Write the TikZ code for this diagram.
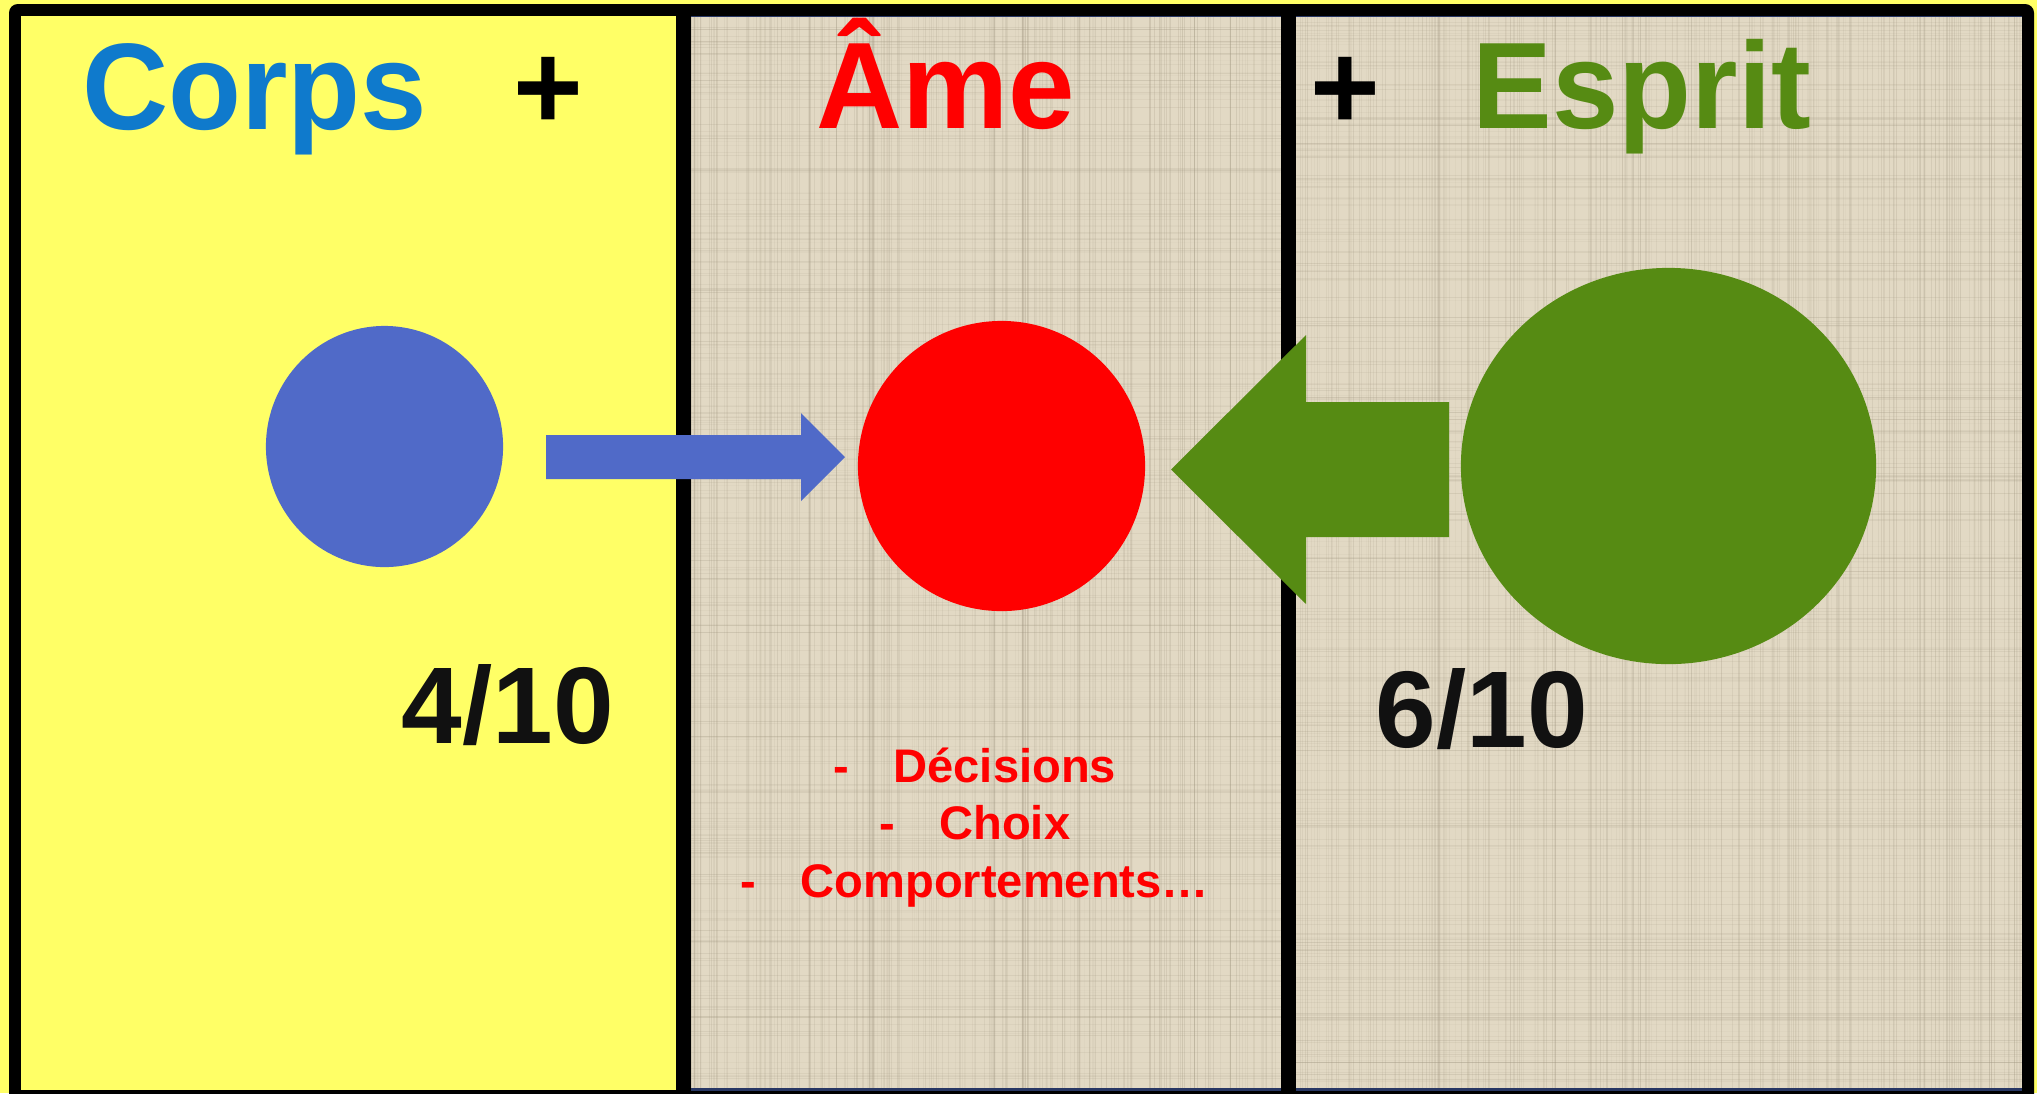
\documentclass[tikz,border=0pt]{standalone}
\usepackage{fontspec}
\setmainfont{Liberation Sans}
\newfontfamily\titlefont{Liberation Sans}[FakeStretch=0.97]
\usetikzlibrary{shapes.geometric}
\definecolor{bgyellow}{RGB}{255,255,102}
\definecolor{linen}{RGB}{226,217,196}
\definecolor{linendark}{RGB}{160,150,128}
\definecolor{corpsblue}{RGB}{15,122,204}
\definecolor{circblue}{RGB}{80,106,200}
\definecolor{esgreen}{RGB}{86,139,19}
\definecolor{navyline}{RGB}{40,55,100}
\definecolor{numblack}{RGB}{17,17,17}
\tikzset{
  title/.style={font=\titlefont\fontsize{35pt}{35pt}\selectfont\bfseries, anchor=base, inner sep=0pt},
  numtext/.style={font=\fontsize{31pt}{31pt}\selectfont\bfseries, anchor=base, inner sep=0pt, text=numblack},
  listtext/.style={font=\fontsize{13.4pt}{13.4pt}\selectfont\bfseries, anchor=base, inner sep=0pt, text=red},
  blob/.style={ellipse, inner sep=0pt, draw=none}
}
\begin{document}
\begin{tikzpicture}[x=0.01cm,y=-0.01cm]
\useasboundingbox (0,0) rectangle (2037,1093);
\clip (0,0) rectangle (2037,1093);
% background and frame
\fill[bgyellow] (0,0) rectangle (2037,1093);
\fill[black, rounded corners=2.5pt] (9,4) rectangle (2034,1120);
\fill[bgyellow] (21,16) rectangle (676,1090);
\fill[linen] (691,16) rectangle (1281,1089);
\fill[linen] (1296,16) rectangle (2022,1089);
% linen texture
\pgfmathsetseed{11}
\foreach \xa/\xb in {691/1281,1296/2022}{
  \begin{scope}
    \clip (\xa,16) rectangle (\xb,1089);
    \foreach \i in {1,...,260}{
      \pgfmathsetmacro{\xx}{\xa+(\xb-\xa)*rnd}
      \pgfmathsetmacro{\op}{0.05+0.18*rnd}
      \draw[linendark, opacity=\op, line width=0.3pt] (\xx,16) -- (\xx,1089);
    }
    \foreach \i in {1,...,300}{
      \pgfmathsetmacro{\yy}{16+1073*rnd}
      \pgfmathsetmacro{\op}{0.04+0.14*rnd}
      \draw[linendark, opacity=\op, line width=0.3pt] (\xa,\yy) -- (\xb,\yy);
    }
  \end{scope}
}
\draw[navyline, line width=0.3pt] (691,16.5) -- (1281,16.5) (1296,16.5) -- (2022,16.5);
\draw[navyline, line width=0.9pt] (691,1089.5) -- (1281,1089.5) (1296,1089.5) -- (2022,1089.5);
% titles
\node[title, text=corpsblue] (corps) at (254.5,129) {Corps};
\node[title] (plus1) at (548,129) {+};
\node[title, text=red] (ame) at (946,128) {Âme};
\node[title] (plus2) at (1345,129) {+};
\node[title, text=esgreen] (esprit) at (1642,128) {Esprit};
% circles
\node[blob, fill=circblue, minimum width=2.37cm, minimum height=2.41cm] (bluec) at (384.5,446.5) {};
\node[blob, fill=red, minimum width=2.87cm, minimum height=2.90cm] (redc) at (1001.5,466) {};
\node[blob, fill=esgreen, minimum width=4.15cm, minimum height=3.96cm] (greenc) at (1668.5,466) {};
% block arrows
\fill[circblue] (546,435) -- (801,435) -- (801,413) -- (845,457) -- (801,501) -- (801,479) -- (546,479) -- cycle;
\fill[esgreen] (1449,402) -- (1306,402) -- (1306,335) -- (1171,469.5) -- (1306,604) -- (1306,537) -- (1449,537) -- cycle;
% numbers
\node[numtext] (n4) at (508,743) {4/10};
\node[numtext] (n6) at (1482,747) {6/10};
% list
\node[listtext] (l1) at (975,782) {-\hspace{12.5pt}Décisions};
\node[listtext] (l2) at (975,839) {-\hspace{12.5pt}Choix};
\node[listtext] (l3) at (975,897) {-\hspace{12.5pt}Comportements…};
\end{tikzpicture}
\end{document}
